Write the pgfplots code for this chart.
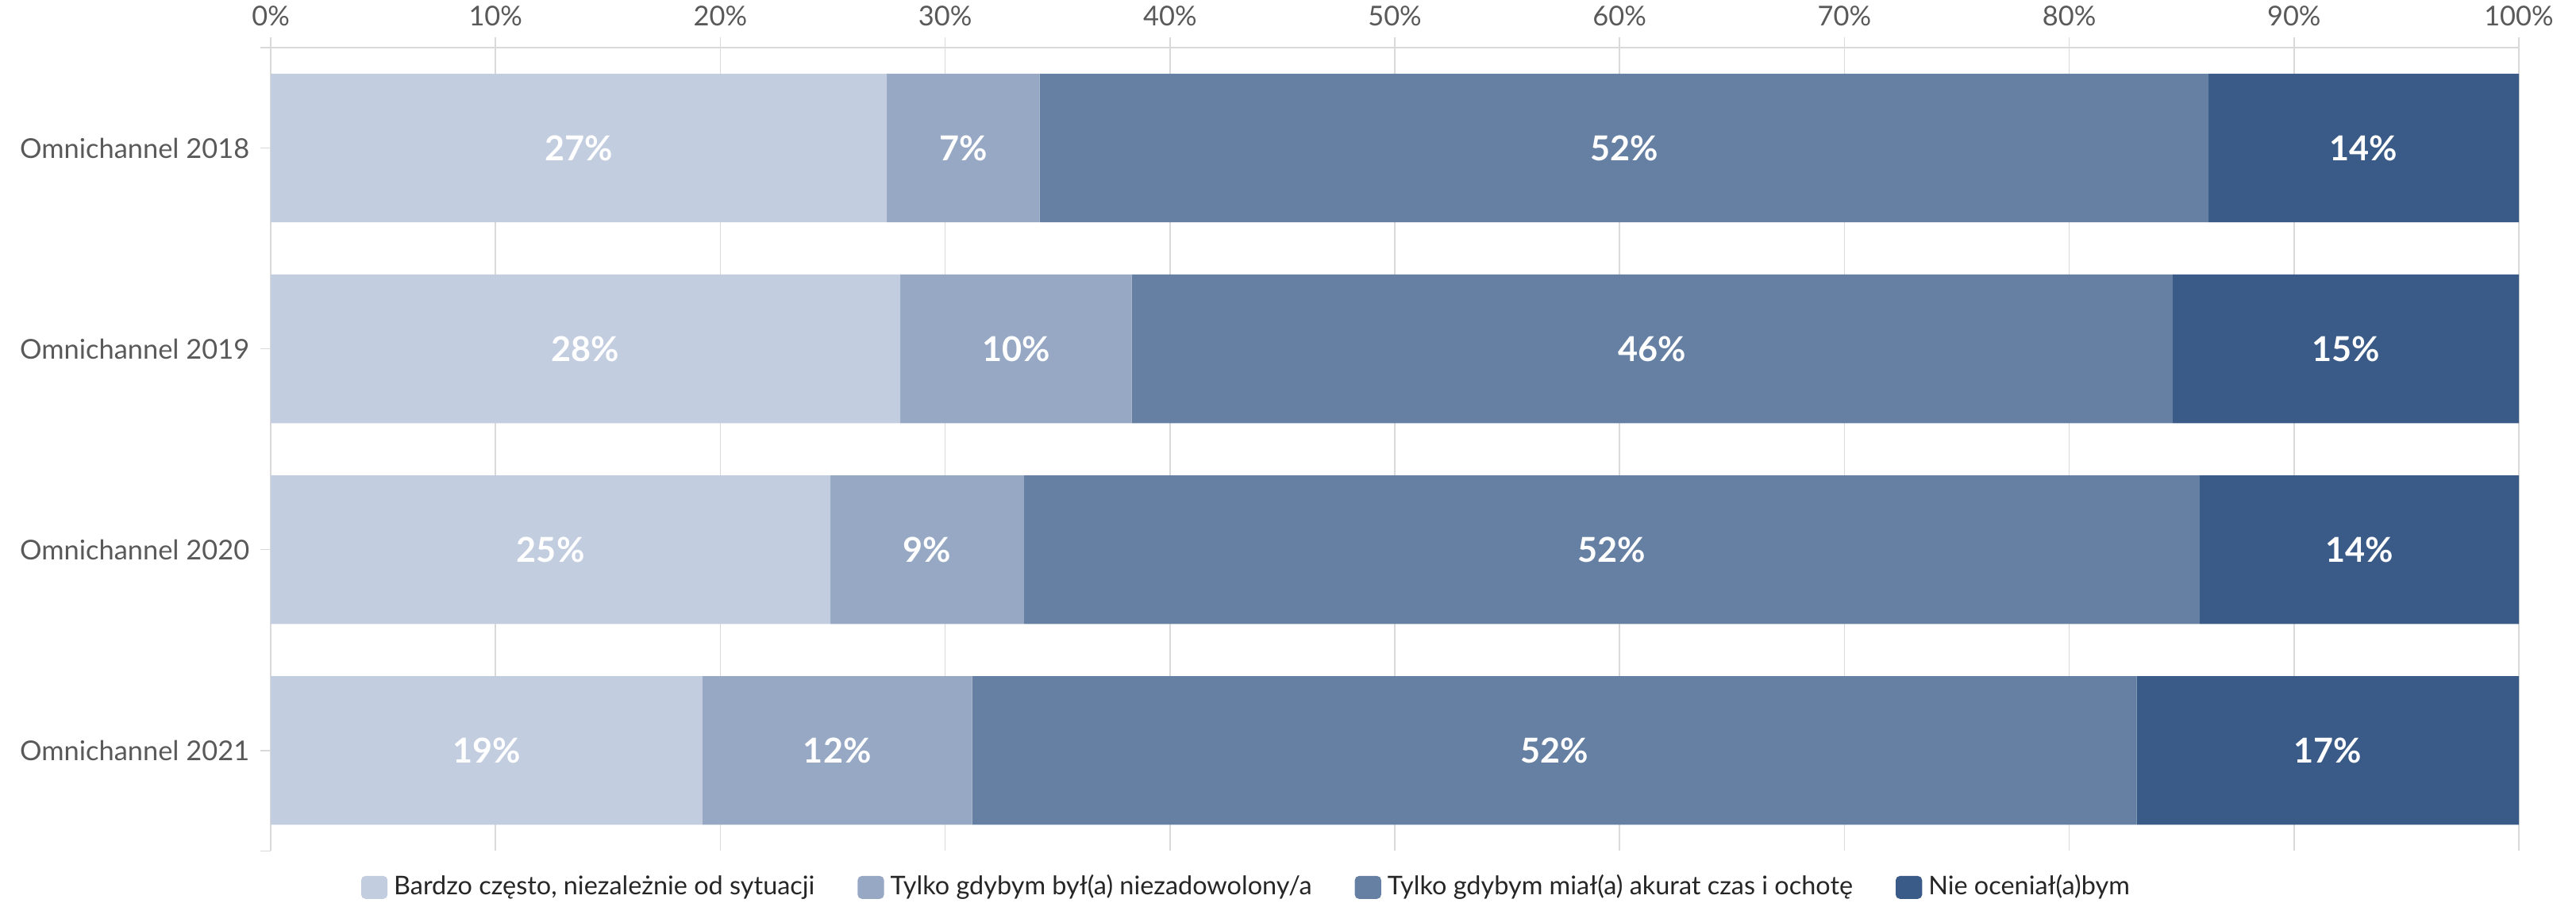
\documentclass[border=0pt]{standalone}
\usepackage{fontspec}
\setmainfont{Lato}
\usepackage{pgfplots}
\pgfplotsset{compat=1.18}
\definecolor{cA}{RGB}{195,205,224}
\definecolor{cB}{RGB}{150,168,196}
\definecolor{cC}{RGB}{102,128,164}
\definecolor{cD}{RGB}{58,91,135}
\definecolor{gridc}{RGB}{217,217,217}
\definecolor{tickc}{RGB}{89,89,89}
\definecolor{legc}{RGB}{38,38,38}
\begin{document}
\begin{tikzpicture}
\begin{axis}[
  name=ax,
  scale only axis,
  width=707.75pt, height=253pt,
  xbar stacked,
  bar width=0.74,
  y dir=reverse,
  ymin=-0.5, ymax=3.5,
  xmin=0, xmax=100,
  axis x line*=top,
  axis y line*=left,
  axis line style={gridc, line width=0.4pt},
  xmajorgrids,
  grid style={gridc, line width=0.4pt},
  xtick={0,10,...,100},
  xticklabel={\pgfmathprintnumber{\tick}\%},
  xticklabel pos=right,
  ytick={0,1,2,3},
  yticklabels={Omnichannel 2018,Omnichannel 2019,Omnichannel 2020,Omnichannel 2021},
  extra y ticks={-0.5,3.5},
  extra y tick labels={},
  extra y tick style={grid=none},
  tick align=outside,
  major tick length=3.2pt,
  tick style={gridc, line width=0.4pt},
  ticklabel style={font=\fontsize{8.6}{10}\selectfont, text=tickc},
  /pgf/number format/assume math mode=true,
  point meta=explicit symbolic,
  nodes near coords,
  every node near coord/.append style={anchor=center, text=white,
     font=\fontsize{10.8}{12}\selectfont\bfseries},
  legend columns=4,
  legend cell align=left,
  legend style={draw=none, fill=none, at={(0.435,-0.0455)}, anchor=center,
     font=\fontsize{8.1}{10}\selectfont, text=legc,
     /tikz/every even column/.append style={column sep=11.5pt}},
  legend image code/.code={\fill[#1, draw=none, rounded corners=1.3pt] (0pt,-3.6pt) rectangle (8.3pt,3.6pt);},
]
\addplot[fill=cA, draw=none] coordinates {(27.4,0) [27\%] (28.0,1) [28\%] (24.9,2) [25\%] (19.2,3) [19\%]};
\addplot[fill=cB, draw=none] coordinates {(6.8,0) [7\%] (10.3,1) [10\%] (8.6,2) [9\%] (12.0,3) [12\%]};
\addplot[fill=cC, draw=none] coordinates {(52.0,0) [52\%] (46.3,1) [46\%] (52.3,2) [52\%] (51.8,3) [52\%]};
\addplot[fill=cD, draw=none] coordinates {(13.8,0) [14\%] (15.4,1) [15\%] (14.2,2) [14\%] (17.0,3) [17\%]};
\legend{{Bardzo często, niezależnie od sytuacji}, Tylko gdybym był(a) niezadowolony/a, Tylko gdybym miał(a) akurat czas i ochotę, Nie oceniał(a)bym}
\end{axis}
\pgfresetboundingbox
\path ([shift={(-85.25pt,-16.25pt)}]ax.south west) rectangle ([shift={(18pt,15pt)}]ax.north east);
\end{tikzpicture}
\end{document}
